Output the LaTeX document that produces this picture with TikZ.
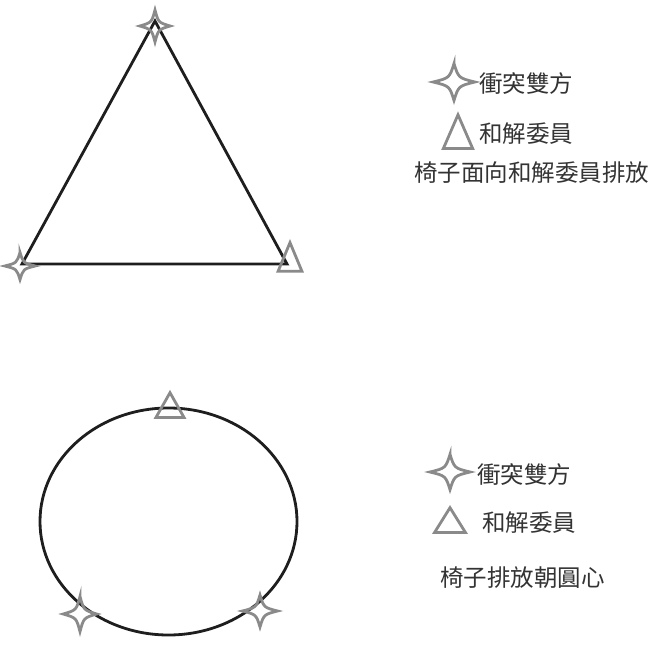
\documentclass[tikz,border=0pt]{standalone}
\usepackage{fontspec}
\newfontfamily\cjk{Noto Sans CJK TC}
\begin{document}
\begin{tikzpicture}[x=1pt,y=-1pt,
  marker/.style={draw=mgray,line width=2.8pt,line join=miter},
  outline/.style={draw=lineblack,line width=2.8pt},
  legendtext/.style={inner sep=0pt,anchor=west,font=\cjk\fontsize{23.5}{26}\selectfont,text=txtgray},
  cstar/.pic={\draw[marker] (0,-16) .. controls (3.5,-3.5) .. (16,0) .. controls (3.5,3.5) .. (0,16) .. controls (-3.5,3.5) .. (-16,0) .. controls (-3.5,-3.5) .. cycle;},
  ctri/.pic={\draw[marker] (-14,12) -- (0,-14) -- (14,12) -- cycle;}
]
\definecolor{mgray}{HTML}{8A8A8A}
\definecolor{lineblack}{HTML}{1E1E1E}
\definecolor{txtgray}{HTML}{333333}
\useasboundingbox (0,0) rectangle (659,650);

% upper arrangement
\coordinate (A) at (155,21);
\coordinate (B) at (22,264);
\coordinate (C) at (287,264);
\draw[outline,line join=miter] (A) -- (B) -- (C) -- cycle;
\pic[xscale=0.95,yscale=1.0] at (155,26) {cstar};
\pic[xscale=0.95,yscale=0.85] at (20,266) {cstar};
\pic[xscale=0.85,yscale=1.1] at (290,258) {ctri};

% upper legend
\pic[xscale=1.3,yscale=1.15] at (454,82) {cstar};
\node[legendtext] (l1) at (479,84) {衝突雙方};
\pic[xscale=1.05,yscale=1.3] at (458,133) {ctri};
\node[legendtext] (l2) at (479,134) {和解委員};
\node[legendtext] (l3) at (414,173) {椅子面向和解委員排放};

% lower arrangement
\coordinate (O) at (168.5,521.5);
\draw[outline] (O) ellipse [x radius=128.5,y radius=113.5];
\pic[xscale=1.0,yscale=0.95] at (170,406) {ctri};
\pic[xscale=1.05,yscale=1.1] at (80,614) {cstar};
\pic[xscale=1.1,yscale=1.0] at (260,611) {cstar};

% lower legend
\pic[xscale=1.25,yscale=1.1] at (450,472) {cstar};
\node[legendtext] (l4) at (477,475) {衝突雙方};
\pic[xscale=1.1,yscale=0.95] at (450,521) {ctri};
\node[legendtext] (l5) at (482,523) {和解委員};
\node[legendtext] (l6) at (440,578) {椅子排放朝圓心};
\end{tikzpicture}
\end{document}
